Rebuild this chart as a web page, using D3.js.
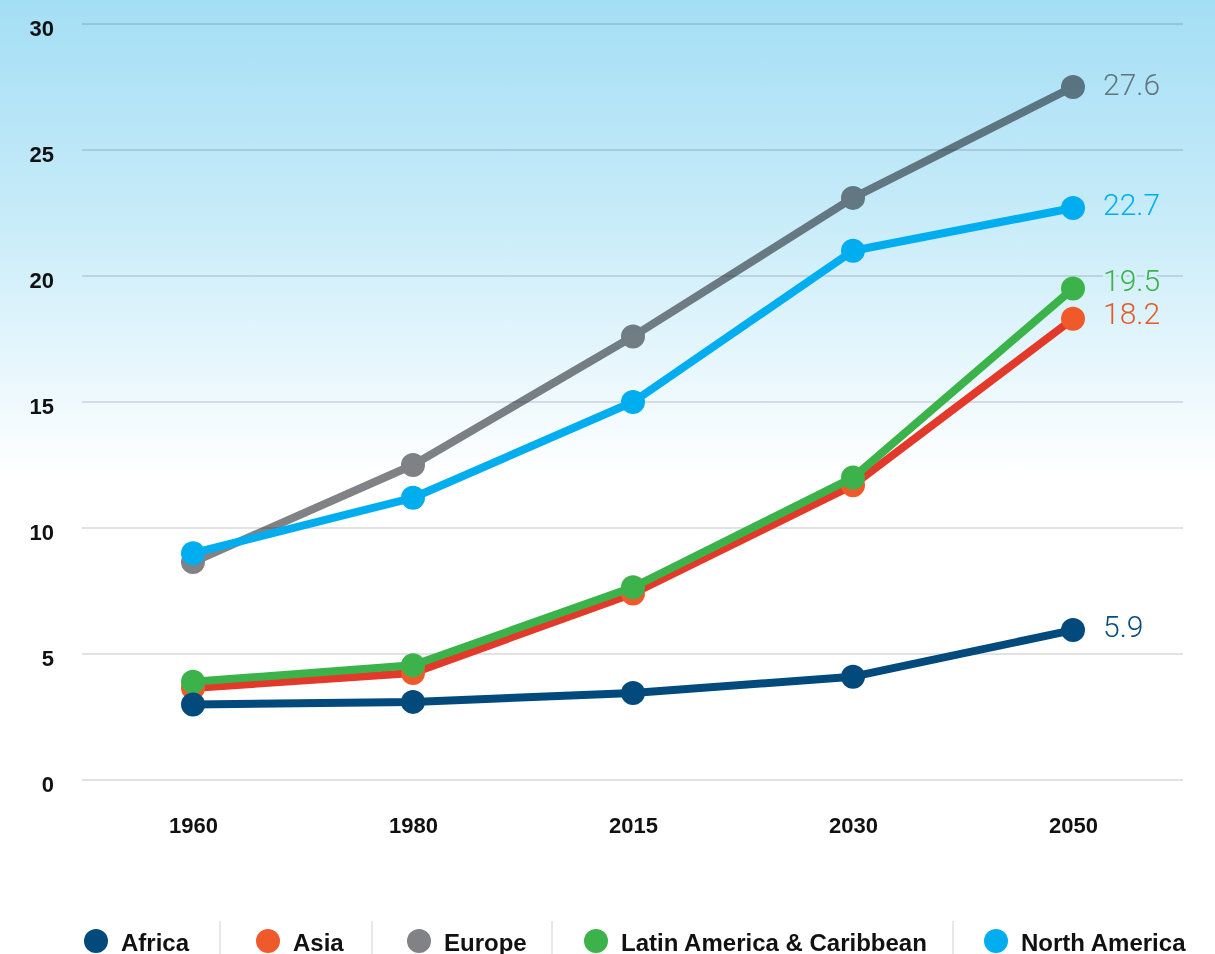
<!DOCTYPE html>
<html><head><meta charset="utf-8">
<script src="https://cdn.jsdelivr.net/npm/d3@7"></script>
<style>
html,body{margin:0;padding:0;background:#fff;}
svg{display:block;}
</style></head>
<body>
<script>
const years = ["1960","1980","2015","2030","2050"];
const seriesNames = ["Africa","Asia","Europe","Latin America & Caribbean","North America"];
const africa = [3.0, 3.1, 3.45, 4.1, 5.95];
const asia = [3.65, 4.25, 7.4, 11.7, 18.3];
const europe = [8.65, 12.5, 17.6, 23.1, 27.5];
const latinAmerica = [3.9, 4.55, 7.65, 12.0, 19.5];
const northAmerica = [9.0, 11.2, 15.0, 21.0, 22.7];
const endLabels = ["5.9","18.2","27.6","19.5","22.7"];
const yTicks = [0,5,10,15,20,25,30];

const W = 1215, H = 954;
const series = [
  {name: seriesNames[0], values: africa, label: endLabels[0], line:"#034a7c", dot:"#034a7c", text:"#0a4c7c", dy:-4},
  {name: seriesNames[1], values: asia, label: endLabels[1], line:"#e2392a", dot:"#f05a2b", text:"#e05a2d", dy:-5},
  {name: seriesNames[2], values: europe, label: endLabels[2], line:"#808285", dot:"#808285", text:"#62747e", dy:-3, blend:true},
  {name: seriesNames[3], values: latinAmerica, label: endLabels[3], line:"#3bb34a", dot:"#3bb34a", text:"#3bb34a", dy:-8},
  {name: seriesNames[4], values: northAmerica, label: endLabels[4], line:"#00aeef", dot:"#00aeef", text:"#00aeef", dy:-3}
];
const drawOrder = [1,3,0,2,4];

const svg = d3.select("body").append("svg").attr("width", W).attr("height", H);
const defs = svg.append("defs");
const grad = defs.append("linearGradient").attr("id","bg")
  .attr("gradientUnits","userSpaceOnUse").attr("x1",0).attr("y1",0).attr("x2",0).attr("y2",H);
grad.append("stop").attr("offset",0).attr("stop-color","#a4def5");
grad.append("stop").attr("offset",0.22).attr("stop-color","#c6ebf9");
grad.append("stop").attr("offset",0.5).attr("stop-color","#ffffff");
grad.append("stop").attr("offset",1).attr("stop-color","#ffffff");
svg.append("rect").attr("width",W).attr("height",H).attr("fill","url(#bg)");

const x = d3.scalePoint().domain(years).range([193,1073]);
const y = d3.scaleLinear().domain([0,30]).range([780,24]);

// grid
const grid = svg.append("g");
grid.selectAll("line").data(yTicks).join("line")
  .attr("x1",82).attr("x2",1183)
  .attr("y1",d=>y(d)).attr("y2",d=>y(d))
  .attr("stroke","#c4c6c8").attr("stroke-width",1.2)
  .style("mix-blend-mode","multiply");

const tickFont = "Liberation Sans, Arial, sans-serif";
// y axis labels
const yAxis = d3.axisLeft(y).tickValues(yTicks).tickSize(0).tickPadding(0);
const yg = svg.append("g").attr("transform","translate(54,4)").call(yAxis);
yg.select(".domain").remove();
yg.selectAll("text").attr("font-family",tickFont)
  .attr("font-weight","bold").attr("font-size",22).attr("fill","#111");

// x axis labels
const xAxis = d3.axisBottom(x).tickSize(0).tickPadding(0);
const xg = svg.append("g").attr("transform","translate(0,817)").call(xAxis);
xg.select(".domain").remove();
xg.selectAll("text").attr("font-family",tickFont)
  .attr("font-weight","bold").attr("font-size",22).attr("fill","#111");

const line = d3.line().x((d,i)=>x(years[i])).y(d=>y(d));

const plot = svg.append("g");
drawOrder.forEach(k=>{
  const s = series[k];
  const g = plot.append("g");
  if (s.blend) g.style("mix-blend-mode","multiply");
  g.append("path").datum(s.values).attr("d",line)
    .attr("fill","none").attr("stroke",s.line).attr("stroke-width",8)
    .attr("stroke-linejoin","round");
  g.selectAll("circle").data(s.values).join("circle")
    .attr("cx",(d,i)=>x(years[i])).attr("cy",d=>y(d)).attr("r",12)
    .attr("fill",s.dot);
});

// end labels
const lab = svg.append("g");
series.forEach(s=>{
  const v = s.values[s.values.length-1];
  lab.append("text")
    .attr("x", x(years[years.length-1]) + 30)
    .attr("y", y(v) + s.dy)
    .attr("dominant-baseline","central")
    .attr("font-family","Roboto, sans-serif").attr("font-weight",300)
    .attr("font-size",30).attr("fill",s.text)
    .attr("stroke","url(#bg)").attr("stroke-width",5).attr("paint-order","stroke")
    .text(s.label);
});

// legend
const legendX = [96,268,419,596,996];
const sepX = [220,372,552,953];
const leg = svg.append("g");
leg.selectAll("line").data(sepX).join("line")
  .attr("x1",d=>d).attr("x2",d=>d).attr("y1",921).attr("y2",954)
  .attr("stroke","#d0d0d0").attr("stroke-width",1);
series.forEach((s,i)=>{
  leg.append("circle").attr("cx",legendX[i]).attr("cy",941).attr("r",12).attr("fill",s.dot);
  leg.append("text").attr("x",legendX[i]+25).attr("y",942)
    .attr("dominant-baseline","central")
    .attr("font-family",tickFont).attr("font-weight","bold")
    .attr("font-size",24).attr("fill","#111").text(s.name);
});
</script>
</body></html>
